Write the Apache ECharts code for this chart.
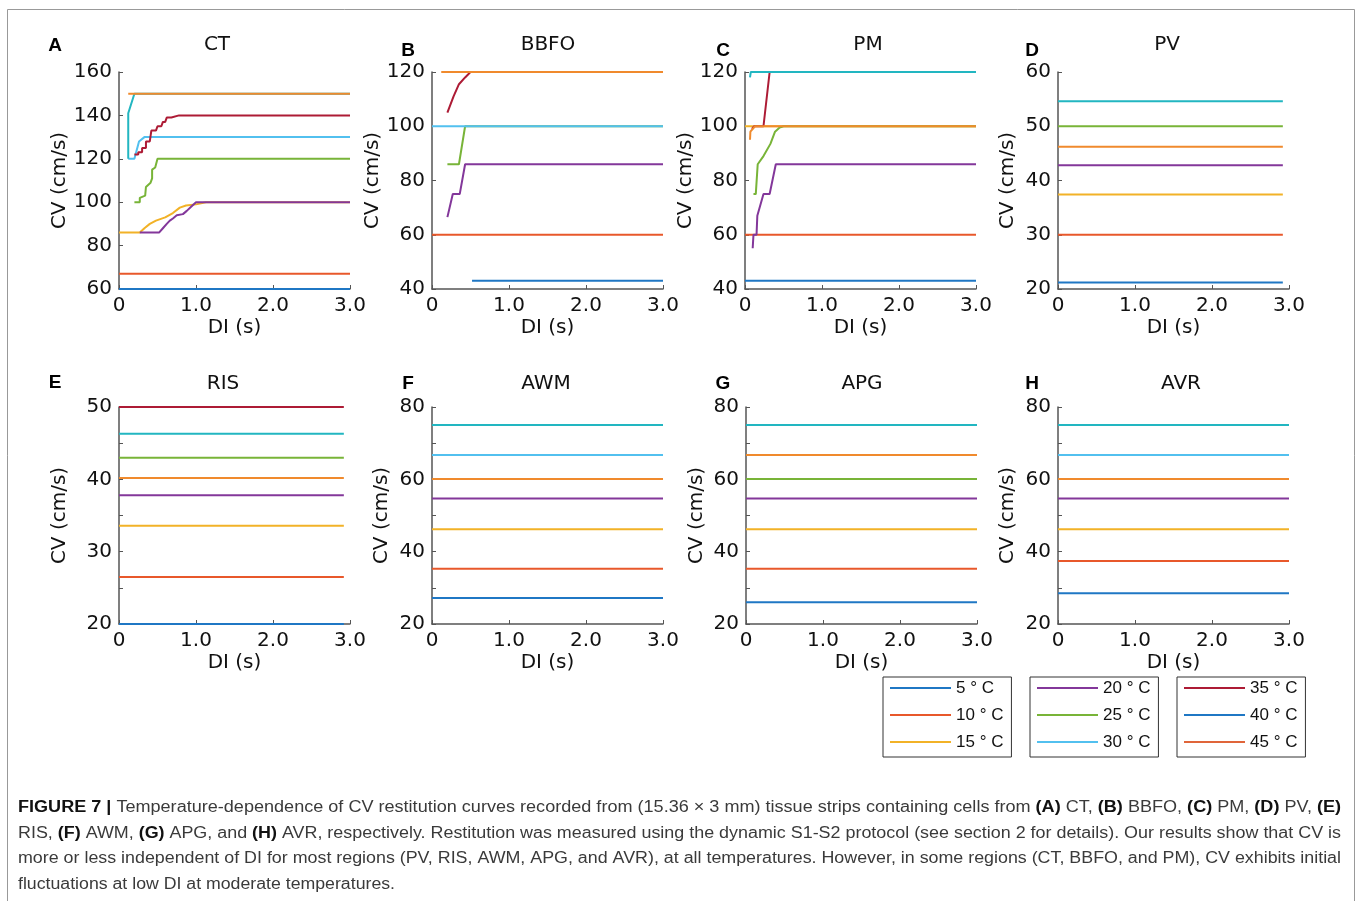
<!DOCTYPE html>
<html>
<head>
<meta charset="utf-8">
<script src="https://cdn.jsdelivr.net/npm/echarts@6/dist/echarts.min.js"></script>
<style>
html,body{margin:0;padding:0;background:#fff;}
#chart{width:1358px;height:901px;}
</style>
</head>
<body>
<div id="chart"></div>
<script>
// ---------------- DATA ----------------
const TEMPS = ['5 ° C','10 ° C','15 ° C','20 ° C','25 ° C','30 ° C','35 ° C','40 ° C','45 ° C'];

// Panel A (CT): [temperature index, [[DI, CV], ...]]
const CT_CURVES = [
  [0, [[0,60],[3,60]]],
  [1, [[0,67],[3,67]]],
  [2, [[0,86],[0.27,86],[0.33,88],[0.40,90],[0.48,91.5],[0.60,93],[0.70,95],[0.79,97.5],[0.87,98.5],[1.00,99],[1.13,100],[3,100]]],
  [3, [[0.27,86],[0.52,86],[0.57,88],[0.62,90],[0.66,91.5],[0.70,92.5],[0.75,94],[0.83,94.5],[0.88,96],[0.94,98],[1.00,100],[3,100]]],
  [4, [[0.20,100],[0.27,100],[0.27,102],[0.34,103],[0.35,107],[0.41,109],[0.43,111],[0.43,115],[0.47,116],[0.50,120],[3,120]]],
  [5, [[0.12,120],[0.20,120],[0.26,128],[0.33,130],[3,130]]],
  [6, [[0.20,122],[0.25,122],[0.25,123],[0.30,123],[0.30,125],[0.35,125],[0.35,128],[0.40,128],[0.42,133],[0.48,133],[0.50,135],[0.55,135],[0.57,137],[0.60,137],[0.62,139],[0.68,139],[0.78,140],[3,140]]],
  [7, [[0.12,120],[0.12,141],[0.20,150],[3,150]]],
  [8, [[0.12,150],[3,150]]]
];
// Panel B (BBFO)
const BBFO_CURVES = [
  [0, [[0.52,43],[3,43]]],
  [1, [[0,60],[3,60]]],
  [3, [[0.20,66.5],[0.27,75],[0.36,75],[0.43,86],[3,86]]],
  [4, [[0.20,86],[0.35,86],[0.43,100],[3,100]]],
  [5, [[0,100],[3,100]]],
  [6, [[0.20,105],[0.28,111],[0.35,115.5],[0.43,118],[0.50,120],[3,120]]],
  [8, [[0.12,120],[3,120]]]
];
// Panel C (PM)
const PM_CURVES = [
  [0, [[0,43],[3,43]]],
  [1, [[0,60],[3,60]]],
  [2, [[0,100],[3,100]]],
  [3, [[0.10,55],[0.11,60],[0.15,60],[0.16,67],[0.24,75],[0.32,75],[0.40,86],[3,86]]],
  [4, [[0.11,75],[0.14,75],[0.165,86],[0.24,89],[0.33,93.5],[0.39,98],[0.45,99.5],[0.50,100],[3,100]]],
  [6, [[0.09,99],[0.12,100],[0.24,100],[0.32,120],[3,120]]],
  [7, [[0.065,118],[0.075,120],[0.12,120],[3,120]]],
  [8, [[0.065,95],[0.07,98],[0.13,100],[3,100]]]
];
// Flat panels: [temperature index, CV]
const PV_LEVELS  = [[0,21.2],[1,30],[2,37.4],[3,42.8],[4,50],[7,54.6],[8,46.2]];
const RIS_LEVELS = [[0,20],[1,26.5],[2,33.6],[3,37.8],[4,43],[6,50],[7,46.3],[8,40.2]];
const AWM_LEVELS = [[0,27.2],[1,35.3],[2,46.2],[3,54.7],[5,66.7],[7,75],[8,60.1]];
const APG_LEVELS = [[0,26],[1,35.3],[2,46.2],[3,54.7],[4,60.1],[7,75],[8,66.7]];
const AVR_LEVELS = [[0,28.5],[1,37.4],[2,46.2],[3,54.7],[5,66.7],[7,75],[8,60.1]];
// DI ranges for the flat panels
const PV_DI = [0, 2.92];
const RIS_DI = [0, 2.92];
const AWM_DI = [0, 3];
const APG_DI = [0, 3];
const AVR_DI = [0, 3];
// Y-axis ranges [min, max, interval]
const Y_RANGES = [[60,160,20],[40,120,20],[40,120,20],[20,60,10],[20,50,10],[20,80,20],[20,80,20],[20,80,20]];
const TITLES = ['CT','BBFO','PM','PV','RIS','AWM','APG','AVR'];
const LETTERS = ['A','B','C','D','E','F','G','H'];

// ---------------- STYLE ----------------
const COLORS = ['#1f77c4','#e8582b','#f2b227','#83379a','#78b438','#52c0ef','#ad1b35','#22b6c1','#f08a2d'];
const LEGEND_COLORS = ['#1f77c4','#e8582b','#f2b227','#83379a','#78b438','#52c0ef','#ad1b35','#1f77c4','#e0653a'];
const AX = '#555';
const FF = 'DejaVu Sans';

function flat(levels, di) { return levels.map(([t, v]) => [t, [[di[0], v], [di[1], v]]]); }
const PANEL_CURVES = [CT_CURVES, BBFO_CURVES, PM_CURVES,
  flat(PV_LEVELS, PV_DI), flat(RIS_LEVELS, RIS_DI), flat(AWM_LEVELS, AWM_DI), flat(APG_LEVELS, APG_DI), flat(AVR_LEVELS, AVR_DI)];

const LEFTS = [119, 432, 745, 1058, 119, 432, 746, 1058];
const TOPS = [72, 72, 72, 72, 407, 407, 407, 407];
const NAME_GAPS = [49, 40, 38, 40, 49, 40, 39, 40];
const TITLE_X = [217, 548, 868, 1167, 223, 546, 862, 1181];
const TITLE_Y = [45, 45, 45, 45, 384, 384, 384, 384];
const LETTER_X = [55, 408, 723, 1032, 55, 408, 723, 1032];
const LETTER_Y = [46, 51, 51, 51, 383, 384, 384, 384];

const grids = [], xAxes = [], yAxes = [], series = [], graphics = [];
for (let i = 0; i < 8; i++) {
  grids.push({left: LEFTS[i], top: TOPS[i], width: 231, height: 217});
  xAxes.push({
    gridIndex: i, type: 'value', min: 0, max: 3, interval: 1,
    name: 'DI (s)', nameLocation: 'middle', nameGap: 29,
    nameTextStyle: {fontSize: 20, fontFamily: FF, color: '#111'},
    axisLine: {show: true, onZero: false, lineStyle: {color: AX, width: 1.5}},
    axisTick: {show: true, inside: true, length: 4, lineStyle: {color: AX}},
    axisLabel: {fontSize: 20, fontFamily: FF, color: '#111', margin: 7,
      formatter: v => v === 0 ? '0' : v.toFixed(1)},
    splitLine: {show: false}
  });
  const r = Y_RANGES[i];
  yAxes.push({
    gridIndex: i, type: 'value', min: r[0], max: r[1], interval: r[2],
    name: 'CV (cm/s)', nameLocation: 'middle', nameGap: NAME_GAPS[i],
    nameTextStyle: {fontSize: 20, fontFamily: FF, color: '#111'},
    axisLine: {show: true, onZero: false, lineStyle: {color: AX, width: 1.5}},
    axisTick: {show: true, inside: true, length: 4, lineStyle: {color: AX}},
    minorTick: {show: i >= 4, splitNumber: 2, length: 4, lineStyle: {color: AX}},
    axisLabel: {fontSize: 20, fontFamily: FF, color: '#111', margin: 7},
    splitLine: {show: false}
  });
  PANEL_CURVES[i].forEach(([t, pts]) => {
    series.push({
      type: 'line', name: TEMPS[t], xAxisIndex: i, yAxisIndex: i,
      data: pts, showSymbol: false, symbol: 'none', clip: false,
      lineStyle: {color: COLORS[t], width: 2}, itemStyle: {color: COLORS[t]},
      z: 2 + t
    });
  });
  graphics.push({type: 'text', x: TITLE_X[i], y: TITLE_Y[i],
    style: {text: TITLES[i], fontSize: 20, fontFamily: FF, fill: '#111', align: 'center', verticalAlign: 'middle'}});
  graphics.push({type: 'text', x: LETTER_X[i], y: LETTER_Y[i],
    style: {text: LETTERS[i], fontSize: 19, fontWeight: 'bold', fontFamily: 'Liberation Sans', fill: '#000', align: 'center', verticalAlign: 'middle'}});
}

// Legends
const LEG_LEFTS = [883, 1030, 1177];
const legends = LEG_LEFTS.map((lx, k) => ({
  left: lx, top: 677, orient: 'vertical', icon: 'rect',
  itemWidth: 61, itemHeight: 2, itemGap: 9, padding: [2, 8, 6, 7],
  borderColor: '#333', borderWidth: 1, selectedMode: false,
  textStyle: {fontSize: 17, fontFamily: 'Liberation Sans', color: '#111', lineHeight: 18},
  data: [0, 1, 2].map(j => {
    const t = k * 3 + j;
    return {name: TEMPS[t], itemStyle: {color: LEGEND_COLORS[t]}, lineStyle: {color: LEGEND_COLORS[t]}};
  })
}));

// Caption
const CAPTION_LINES = [
  [['FIGURE 7 |', 1], [' Temperature-dependence of CV restitution curves recorded from (15.36 × 3 mm) tissue strips containing cells from ', 0], ['(A)', 1], [' CT, ', 0], ['(B)', 1], [' BBFO, ', 0], ['(C)', 1], [' PM, ', 0], ['(D)', 1], [' PV, ', 0], ['(E)', 1]],
  [['RIS, ', 0], ['(F)', 1], [' AWM, ', 0], ['(G)', 1], [' APG, and ', 0], ['(H)', 1], [' AVR, respectively. Restitution was measured using the dynamic S1-S2 protocol (see section 2 for details). Our results show that CV is', 0]],
  [['more or less independent of DI for most regions (PV, RIS, AWM, APG, and AVR), at all temperatures. However, in some regions (CT, BBFO, and PM), CV exhibits initial', 0]],
  [['fluctuations at low DI at moderate temperatures.', 0]]
];
const CAP_Y = [808, 834, 859, 885];
const CAP_W = [1323, 1323, 1323, 377];
const CAP_FS = 16;
const mctx = document.createElement('canvas').getContext('2d');
CAPTION_LINES.forEach((segs, li) => {
  let w = 0, txt = '';
  segs.forEach(([s, b]) => {
    mctx.font = (b ? 'bold ' : '') + CAP_FS + 'px "Liberation Sans"';
    w += mctx.measureText(s).width;
    txt += (b ? '{b|' : '{n|') + s + '}';
  });
  graphics.push({type: 'text', x: 18, y: CAP_Y[li], scaleX: CAP_W[li] / w,
    style: {text: txt, verticalAlign: 'middle', align: 'left',
      rich: {
        b: {fontSize: CAP_FS, fontWeight: 'bold', fontFamily: 'Liberation Sans', fill: '#111', color: '#111'},
        n: {fontSize: CAP_FS, fontFamily: 'Liberation Sans', fill: '#3a3a3a', color: '#3a3a3a'}
      }}});
});
// Frame
graphics.push({type: 'rect', shape: {x: 7.5, y: 9.5, width: 1347, height: 900},
  style: {fill: 'none', stroke: '#999', lineWidth: 1}, silent: true});

const chart = echarts.init(document.getElementById('chart'), null, {renderer: 'canvas'});
chart.setOption({
  animation: false,
  backgroundColor: '#fff',
  grid: grids, xAxis: xAxes, yAxis: yAxes, series: series,
  legend: legends, graphic: graphics
});
</script>
</body>
</html>
